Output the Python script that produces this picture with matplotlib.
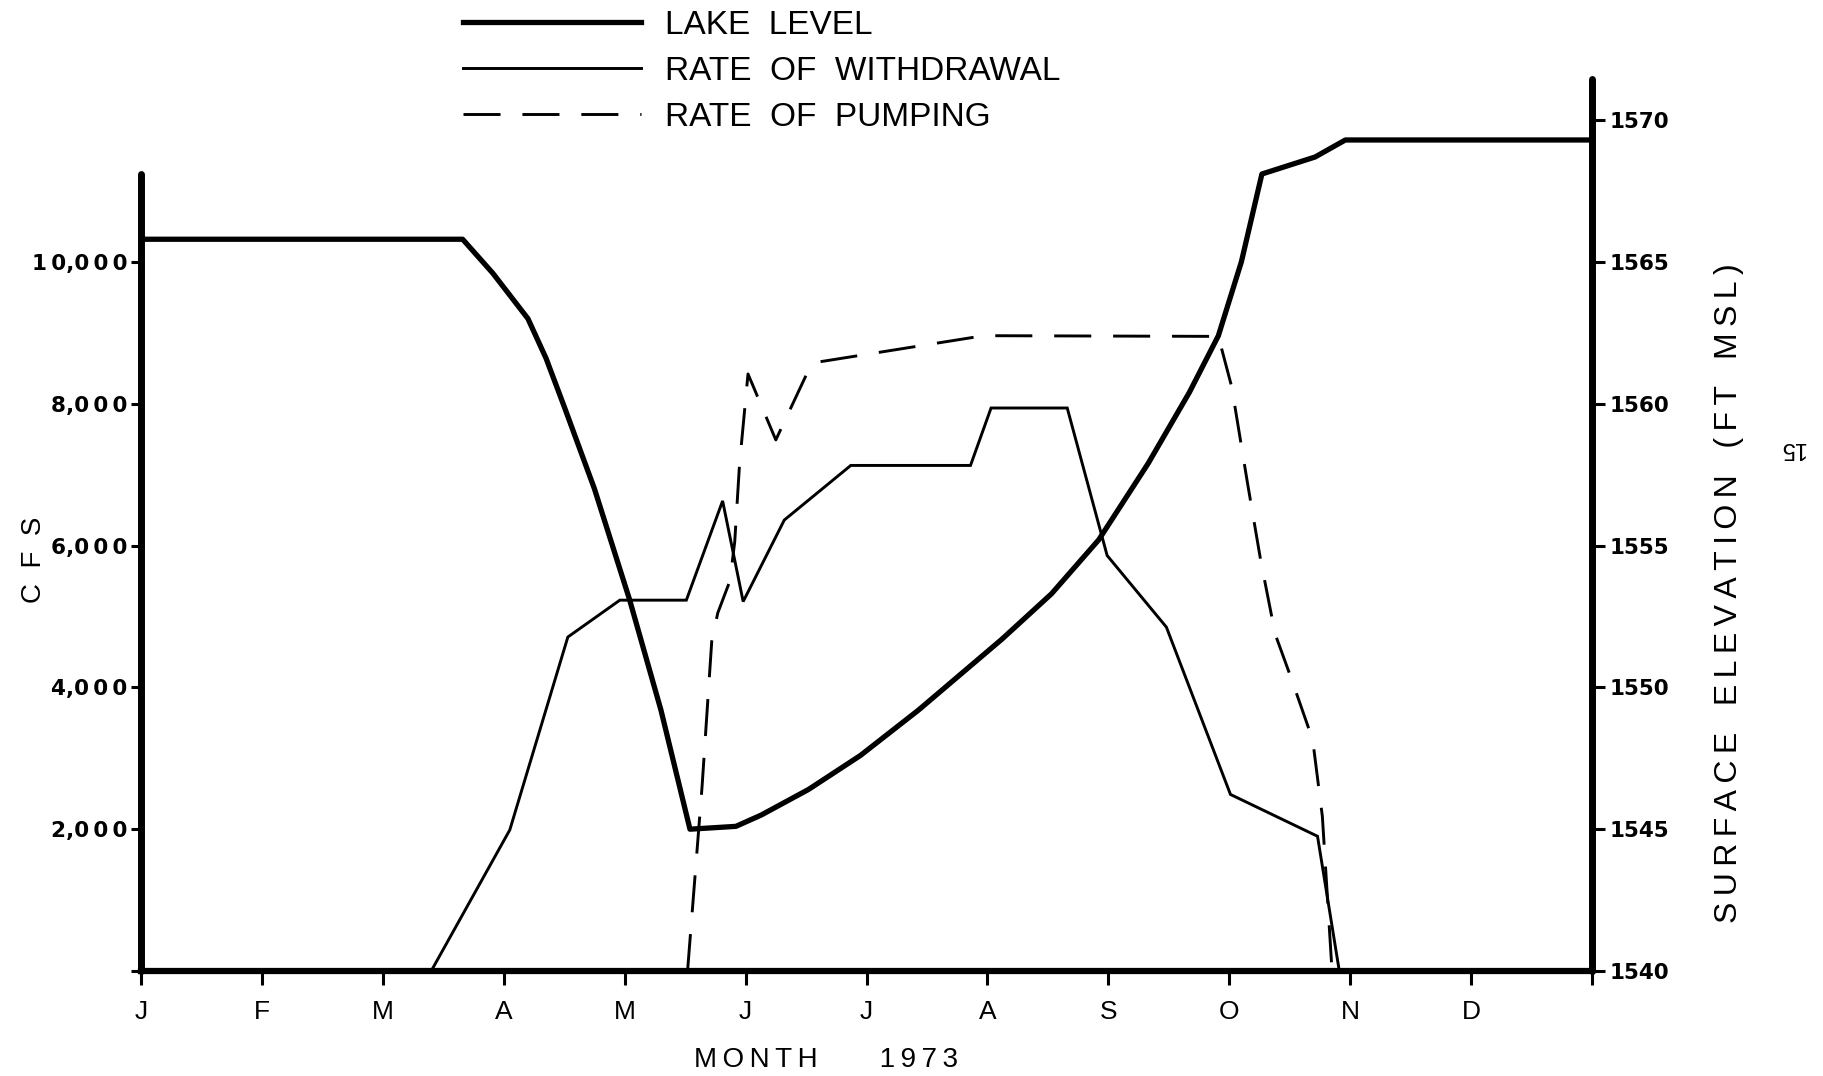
import numpy as np
import matplotlib.pyplot as plt
from matplotlib.ticker import FuncFormatter

plt.rcParams['font.family'] = ['Liberation Sans', 'DejaVu Sans']

# months run from 1 January (0) to 31 December (12)
month_ticks = np.arange(13)
month_labels = ['J', 'F', 'M', 'A', 'M', 'J', 'J', 'A', 'S', 'O', 'N', 'D', '']

# lake level, ft MSL
lake_month = [0, 2.66, 2.91, 3.20, 3.35, 3.50, 3.75, 4.04, 4.30, 4.54, 4.92, 5.13,
              5.52, 5.95, 6.43, 7.12, 7.53, 7.92, 8.33, 8.67, 8.91, 9.10, 9.27,
              9.71, 9.96, 12]
lake_elev = [1565.8, 1565.8, 1564.6, 1563.0, 1561.6, 1559.9, 1557.0, 1553.1, 1549.2,
             1545.0, 1545.1, 1545.5, 1546.4, 1547.6, 1549.2, 1551.7, 1553.3, 1555.2,
             1557.9, 1560.4, 1562.4, 1565.0, 1568.1, 1568.7, 1569.3, 1569.3]

# rate of withdrawal, cfs
wd_month = [0, 2.40, 3.05, 3.53, 3.96, 4.51, 4.81, 4.98, 5.32, 5.87, 6.86, 7.03,
            7.66, 7.99, 8.48, 9.01, 9.73, 9.91, 12]
wd_cfs = [0, 0, 1990, 4710, 5230, 5230, 6630, 5210, 6360, 7130, 7130, 7940,
          7940, 5860, 4850, 2490, 1900, 0, 0]

# rate of pumping, cfs
pump_month = [4.52, 4.64, 4.72, 4.77, 4.87, 4.91, 4.95, 5.02, 5.25, 5.50, 5.57,
              6.97, 8.91, 9.02, 9.15, 9.26, 9.38, 9.51, 9.69, 9.77, 9.85]
pump_cfs = [0, 2600, 4650, 5050, 5500, 6050, 7150, 8420, 7490, 8400, 8580,
            8960, 8950, 8240, 6890, 5790, 4750, 4140, 3260, 2180, 0]

cfs_ticks = [0, 2000, 4000, 6000, 8000, 10000]
elev_ticks = [1540, 1545, 1550, 1555, 1560, 1565, 1570]


def tracked(s, gap='\u2009'):
    # open up the letter spacing of the hand-lettered captions
    return gap.join(s)


def cfs_label(v, pos):
    if v == 0:
        return ''
    thousands, rest = divmod(int(v), 1000)
    return tracked(str(thousands)) + ',' + tracked(f'{rest:03d}')


fig = plt.figure(figsize=(18.23, 10.76), dpi=100)
ax = fig.add_axes([0.07735, 0.09758, 0.79594, 0.82900])
ax2 = ax.twinx()

ax.set_xlim(0, 12)
ax.set_ylim(0, 12580)
ax2.set_ylim(1540, 1540 + 12580 / 400)

lw_thin = 2.1
ax.plot(wd_month, wd_cfs, color='black', lw=lw_thin, solid_joinstyle='miter',
        label='RATE  OF  WITHDRAWAL')
ax.plot(pump_month, pump_cfs, color='black', lw=lw_thin, ls=(0, (12.7, 7.5)),
        label='RATE  OF  PUMPING')
ax2.plot(lake_month, lake_elev, color='black', lw=3.8, solid_joinstyle='round',
         label='LAKE  LEVEL')

# heavy inked frame, left side shorter than right
for sp in ('top', 'right'):
    ax.spines[sp].set_visible(False)
for sp in ('top', 'left', 'bottom'):
    ax2.spines[sp].set_visible(False)
ax.spines['left'].set_linewidth(5)
ax.spines['left'].set_bounds(0, 11240)
ax.spines['left'].set_capstyle('round')
ax.spines['bottom'].set_linewidth(4.5)
ax2.spines['right'].set_linewidth(5)
ax2.spines['right'].set_capstyle('round')

tick_font = dict(family='DejaVu Sans', weight='bold', size=15.5)

ax.set_xticks(month_ticks)
ax.set_xticklabels(month_labels, fontsize=19)
ax.tick_params(axis='x', direction='out', length=10, width=2.2, pad=11)

ax.set_yticks(cfs_ticks)
ax.yaxis.set_major_formatter(FuncFormatter(cfs_label))
ax.tick_params(axis='y', direction='out', length=7, width=2.2, pad=3)
for t in ax.get_yticklabels():
    t.set_fontproperties(tick_font)

ax2.set_yticks(elev_ticks)
ax2.yaxis.set_major_formatter(FuncFormatter(lambda v, p: f'{int(v)}'))
ax2.tick_params(axis='y', direction='out', length=9, width=2.2, pad=3.5)
for t in ax2.get_yticklabels():
    t.set_fontproperties(tick_font)

ax.set_xlabel(tracked('MONTH') + ' ' * 8 + tracked('1973'), fontsize=20)
ax.xaxis.set_label_coords(0.472, -0.0998)
ax.xaxis.label.set_va('center')

ax.set_ylabel('C  F  S', fontsize=20)
ax.yaxis.set_label_coords(-0.0735, 0.461)
ax.yaxis.label.set_va('center')

ax2.set_ylabel('   '.join(tracked(w) for w in ['SURFACE', 'ELEVATION', '(FT', 'MSL)']),
               fontsize=23)
ax2.yaxis.set_label_coords(1.0944, 0.424)
ax2.yaxis.label.set_va('center')

fig.text(0.983, 0.5836, '15', rotation=180, fontsize=17, ha='center', va='center')

handles = ax2.get_lines() + ax.get_lines()
leg = fig.legend(handles=handles, labels=[h.get_label() for h in handles],
                 loc='upper left', bbox_to_anchor=(463 / 1823, 1066 / 1076),
                 frameon=False, fontsize=24, handlelength=5.35, handletextpad=0.72,
                 labelspacing=0.45, borderpad=0, borderaxespad=0)

fig.savefig('out.png', dpi=100, facecolor='white')
